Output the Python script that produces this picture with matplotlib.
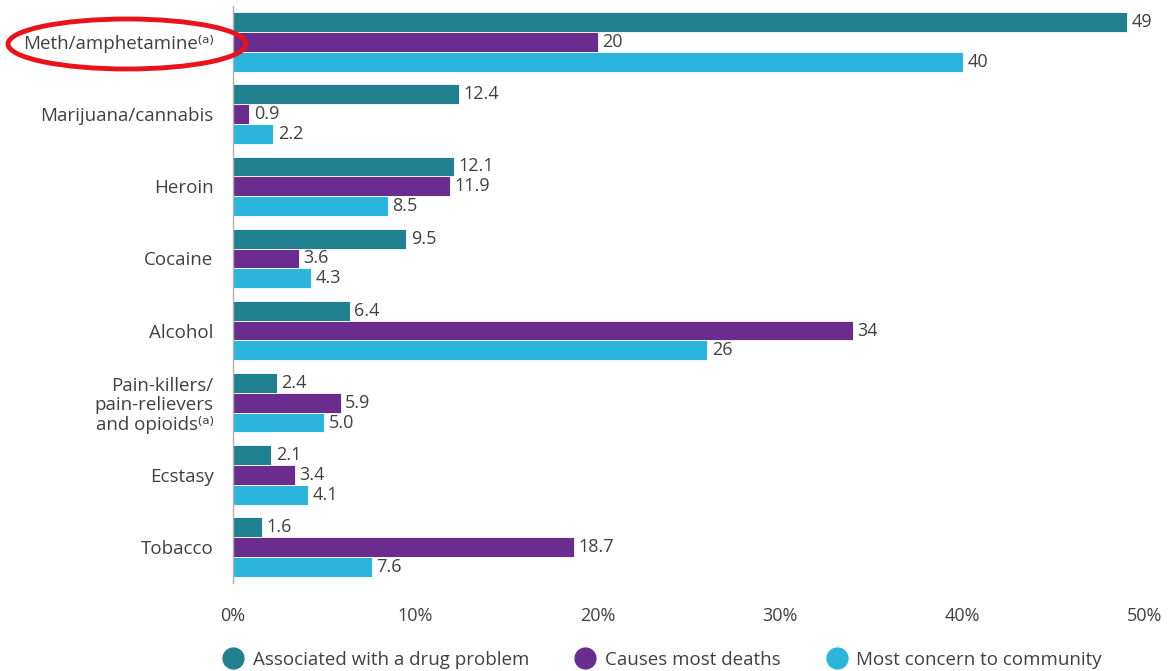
import matplotlib
matplotlib.use("Agg")
import matplotlib.pyplot as plt
import numpy as np
from matplotlib.patches import Ellipse
from matplotlib.lines import Line2D

plt.rcParams['font.family'] = ['Open Sans', 'DejaVu Sans']

# data
categories = ['Meth/amphetamine\u207d\u1d43\u207e', 'Marijuana/cannabis', 'Heroin', 'Cocaine', 'Alcohol',
              'Pain-killers/\npain-relievers\nand opioids\u207d\u1d43\u207e', 'Ecstasy', 'Tobacco']
series_names = ['Associated with a drug problem', 'Causes most deaths', 'Most concern to community']
associated = [49, 12.4, 12.1, 9.5, 6.4, 2.4, 2.1, 1.6]
deaths = [20, 0.9, 11.9, 3.6, 34, 5.9, 3.4, 18.7]
concern = [40, 2.2, 8.5, 4.3, 26, 5.0, 4.1, 7.6]
associated_lbl = ['49', '12.4', '12.1', '9.5', '6.4', '2.4', '2.1', '1.6']
deaths_lbl = ['20', '0.9', '11.9', '3.6', '34', '5.9', '3.4', '18.7']
concern_lbl = ['40', '2.2', '8.5', '4.3', '26', '5.0', '4.1', '7.6']
xticks = [0, 10, 20, 30, 40, 50]
xtick_labels = ['0%', '10%', '20%', '30%', '40%', '50%']

colors = ['#21808f', '#6a2c8e', '#2bb4dc']
txt_col = '#404040'

fig = plt.figure(figsize=(11.7, 6.71), dpi=100)
ax = fig.add_axes([233/1170, 1-583/671, (1145-233)/1170, (583-6)/671])

y = np.arange(len(categories))
h = 0.275
for k, (vals, lbls) in enumerate([(associated, associated_lbl), (deaths, deaths_lbl), (concern, concern_lbl)]):
    pos = y + (k-1)*h
    ax.barh(pos, vals, height=h, color=colors[k], edgecolor='white', linewidth=0.6, label=series_names[k])
    for p, v, s in zip(pos, vals, lbls):
        ax.text(v+0.25, p, s, va='center', ha='left', fontsize=13, color=txt_col)

ax.set_ylim(len(categories)-0.5, -0.5)
ax.set_xlim(0, 50)
ax.set_yticks(y)
ax.set_yticklabels(categories, fontsize=13.5, color=txt_col, linespacing=1.1)
ax.set_xticks(xticks)
ax.set_xticklabels(xtick_labels, fontsize=13, color=txt_col)
ax.tick_params(length=0)
ax.tick_params(axis='x', pad=17)
ax.tick_params(axis='y', pad=14)
for s in ['top', 'right', 'bottom']:
    ax.spines[s].set_visible(False)
ax.spines['left'].set_color('#b0b0b0')
ax.spines['left'].set_linewidth(1.0)

handles = [Line2D([], [], marker='o', linestyle='none', markersize=15, color=c) for c in colors]
fig.legend(handles, series_names, loc='center', bbox_to_anchor=(0.5625, 1-660/671), ncol=3,
           frameon=False, fontsize=13.5, handletextpad=0.05, columnspacing=2.0, labelcolor=txt_col)

# red highlight ring around the first category
ell = Ellipse((127/1170, 1-44/671), 238/1170, 50/671, transform=fig.transFigure,
              fill=False, edgecolor='#e8141a', linewidth=3.5)
fig.patches.append(ell)

fig.savefig('out.png', dpi=100)
